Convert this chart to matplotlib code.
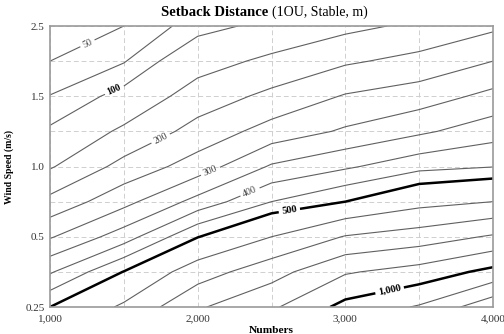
import numpy as np
import matplotlib
matplotlib.use("Agg")
import matplotlib.pyplot as plt
from matplotlib.ticker import FixedLocator, FixedFormatter

plt.rcParams['font.family'] = ['Liberation Serif', 'DejaVu Serif']

# x axis: numbers, y axis: wind speed (m/s)
numbers = [1000, 1500, 2000, 2500, 3000, 3500, 4000]
wind_speed = [0.25, 0.35, 0.5, 0.75, 1.0, 1.25, 1.5, 2.0, 2.5]

# setback distance (m), one row per wind speed
dist_025 = [500, 615, 788, 884, 1030, 1110, 1271]
dist_035 = [394, 502, 652, 761, 890, 940, 1029]
dist_050 = [295, 375, 497, 600, 706, 747, 812]
dist_075 = [214, 284, 367, 450, 500, 568, 600]
dist_100 = [145, 216, 273, 356, 392, 433, 448]
dist_125 = [105, 159, 218, 270, 307, 341, 378]
dist_150 = [76, 111, 173, 212, 254, 275, 314]
dist_200 = [50, 73, 129, 161, 193, 215, 250]
dist_250 = [28, 50, 88, 110, 137, 160, 190]

plain_levels = [75, 150, 250, 350, 450, 600, 700, 800, 900, 1100, 1200, 1300]
labeled_levels = [50, 200, 300, 400]
bold_thin_levels = [100]
thick_levels = [500, 1000]
major_ws = [0.25, 0.5, 1.0, 1.5, 2.5]

Z = np.array([dist_025, dist_035, dist_050, dist_075, dist_100,
              dist_125, dist_150, dist_200, dist_250])
X, Y = np.meshgrid(numbers, wind_speed)

idx = np.arange(len(wind_speed))


def fwd(v):
    return np.interp(v, wind_speed, idx)


def inv(v):
    return np.interp(v, idx, wind_speed)


fig = plt.figure(figsize=(5.04, 3.34), dpi=100)
ax = fig.add_axes([0.0992, 0.0808, 0.8790, 0.8413])
ax.set_yscale('function', functions=(fwd, inv))
ax.set_xlim(1000, 4000)
ax.set_ylim(0.25, 2.5)

thin = dict(colors='#606060', linewidths=0.8)
ax.contour(X, Y, Z, levels=plain_levels, **thin)
cs_lab = ax.contour(X, Y, Z, levels=labeled_levels, **thin)
cs_100 = ax.contour(X, Y, Z, levels=bold_thin_levels, **thin)
cs_thick = ax.contour(X, Y, Z, levels=thick_levels, colors='black', linewidths=1.8)

fmt = lambda v: f"{v:,.0f}"
ax.clabel(cs_lab, fmt=fmt, fontsize=7, colors='#444444', inline_spacing=3,
          manual=[(1250, 2.27), (1758, 1.18), (2097, 0.94), (2354, 0.82)])
ax.clabel(cs_100, fmt=fmt, fontsize=7, colors='black', inline_spacing=3,
          manual=[(1427, 1.63)])
ax.clabel(cs_thick, fmt=fmt, fontsize=7.5, colors='black', inline_spacing=3,
          manual=[(2625, 0.66), (3302, 0.293)])
for t in cs_100.labelTexts + cs_thick.labelTexts:
    t.set_fontweight('bold')

ax.xaxis.set_major_locator(FixedLocator([1000, 2000, 3000, 4000]))
ax.xaxis.set_minor_locator(FixedLocator([1500, 2500, 3500]))
ax.set_xticklabels([fmt(v) for v in [1000, 2000, 3000, 4000]])
ax.yaxis.set_major_locator(FixedLocator(major_ws))
ax.yaxis.set_major_formatter(FixedFormatter([str(v) for v in major_ws]))
ax.yaxis.set_minor_locator(FixedLocator([v for v in wind_speed if v not in major_ws]))
ax.yaxis.set_minor_formatter(FixedFormatter([]))

ax.grid(True, which='both', color='#cfcfcf', linestyle='--', linewidth=0.7, dashes=(5, 3))
ax.set_axisbelow(True)
ax.tick_params(which='both', length=0, labelsize=8, labelcolor='#333333')
ax.tick_params(axis='x', pad=5)
ax.tick_params(axis='y', pad=4)
for s in ax.spines.values():
    s.set_color('#9a9a9a')
    s.set_linewidth(1.2)

ax.set_xlabel('Numbers', fontsize=8.2, fontweight='bold', labelpad=2)
ax.set_ylabel('Wind Speed (m/s)', fontsize=7, fontweight='bold', labelpad=8)

fig.text(0.532, 0.962, 'Setback Distance', fontsize=10.5, fontweight='bold',
         ha='right', va='center')
fig.text(0.540, 0.962, '(1OU, Stable, m)', fontsize=10, ha='left', va='center')

fig.savefig('out.png', dpi=100)
